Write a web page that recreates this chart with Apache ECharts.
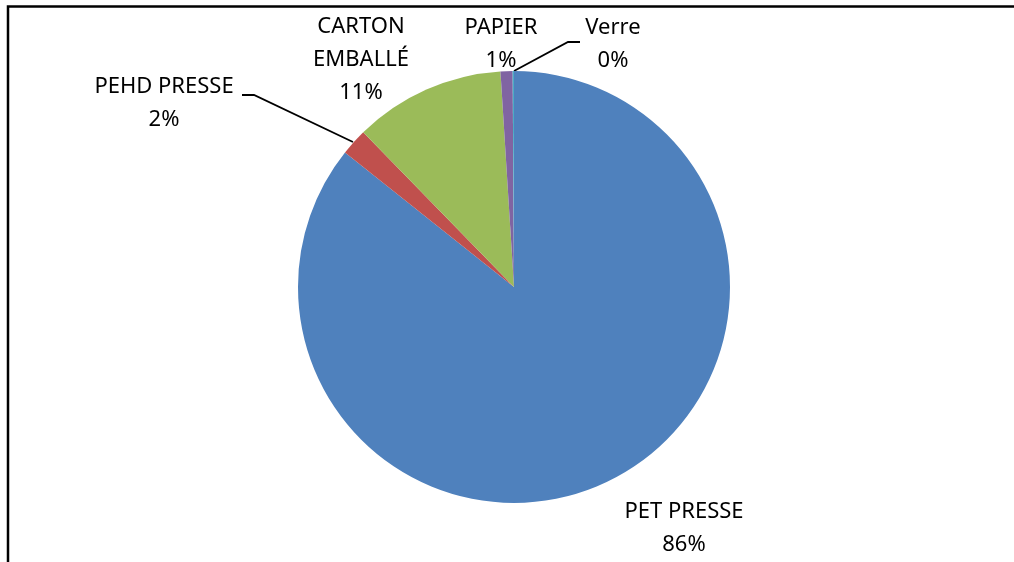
<!DOCTYPE html>
<html>
<head>
<meta charset="utf-8">
<script src="https://cdn.jsdelivr.net/npm/echarts@6/dist/echarts.min.js"></script>
<style>
html,body{margin:0;padding:0;background:#fff;}
#chart{width:1014px;height:562px;}
</style>
</head>
<body>
<div id="chart"></div>
<script>
// Data
const categories = ['PET PRESSE', 'PEHD PRESSE', 'CARTON\nEMBALLÉ', 'PAPIER', 'Verre'];
const values = [85.7, 2.0, 11.3, 0.9, 0.1];
const colors = ['#4F81BD', '#C0504D', '#9BBB59', '#8064A2', '#4BACC6'];

// Layout of labels (pixel positions of label block centres and leader lines)
const labelPos = [
  { x: 684, y: 528, line: null },
  { x: 164, y: 103, line: [[353, 142], [254, 95], [242, 95]] },
  { x: 361, y: 60, line: null },
  { x: 501, y: 44, line: null },
  { x: 613, y: 44, line: [[514, 71], [568, 42], [580, 42]] }
];

const chart = echarts.init(document.getElementById('chart'));

const data = categories.map((name, i) => ({
  name: name,
  value: values[i],
  itemStyle: { color: colors[i] },
  labelLine: { show: !!labelPos[i].line }
}));

chart.setOption({
  animation: false,
  backgroundColor: '#fff',
  graphic: [{
    type: 'rect',
    shape: { x: 8, y: 6.5, width: 1040, height: 600 },
    style: { fill: 'none', stroke: '#000', lineWidth: 2.5 },
    silent: true
  }],
  series: [{
    type: 'pie',
    center: [514, 287],
    radius: 216,
    startAngle: 90,
    clockwise: true,
    avoidLabelOverlap: false,
    emphasis: { disabled: true },
    itemStyle: { borderWidth: 0 },
    label: {
      show: true,
      position: 'outside',
      fontFamily: 'Noto Sans',
      fontSize: 22,
      lineHeight: 33,
      color: '#000',
      align: 'center',
      formatter: p => p.name + '\n' + Math.round(p.percent) + '%'
    },
    labelLine: {
      lineStyle: { color: '#000', width: 1.8 },
      smooth: false
    },
    labelLayout: function (params) {
      const lp = labelPos[params.dataIndex];
      const res = { x: lp.x, y: lp.y, align: 'center', verticalAlign: 'middle' };
      if (lp.line) res.labelLinePoints = lp.line;
      return res;
    },
    data: data
  }]
});
</script>
</body>
</html>
